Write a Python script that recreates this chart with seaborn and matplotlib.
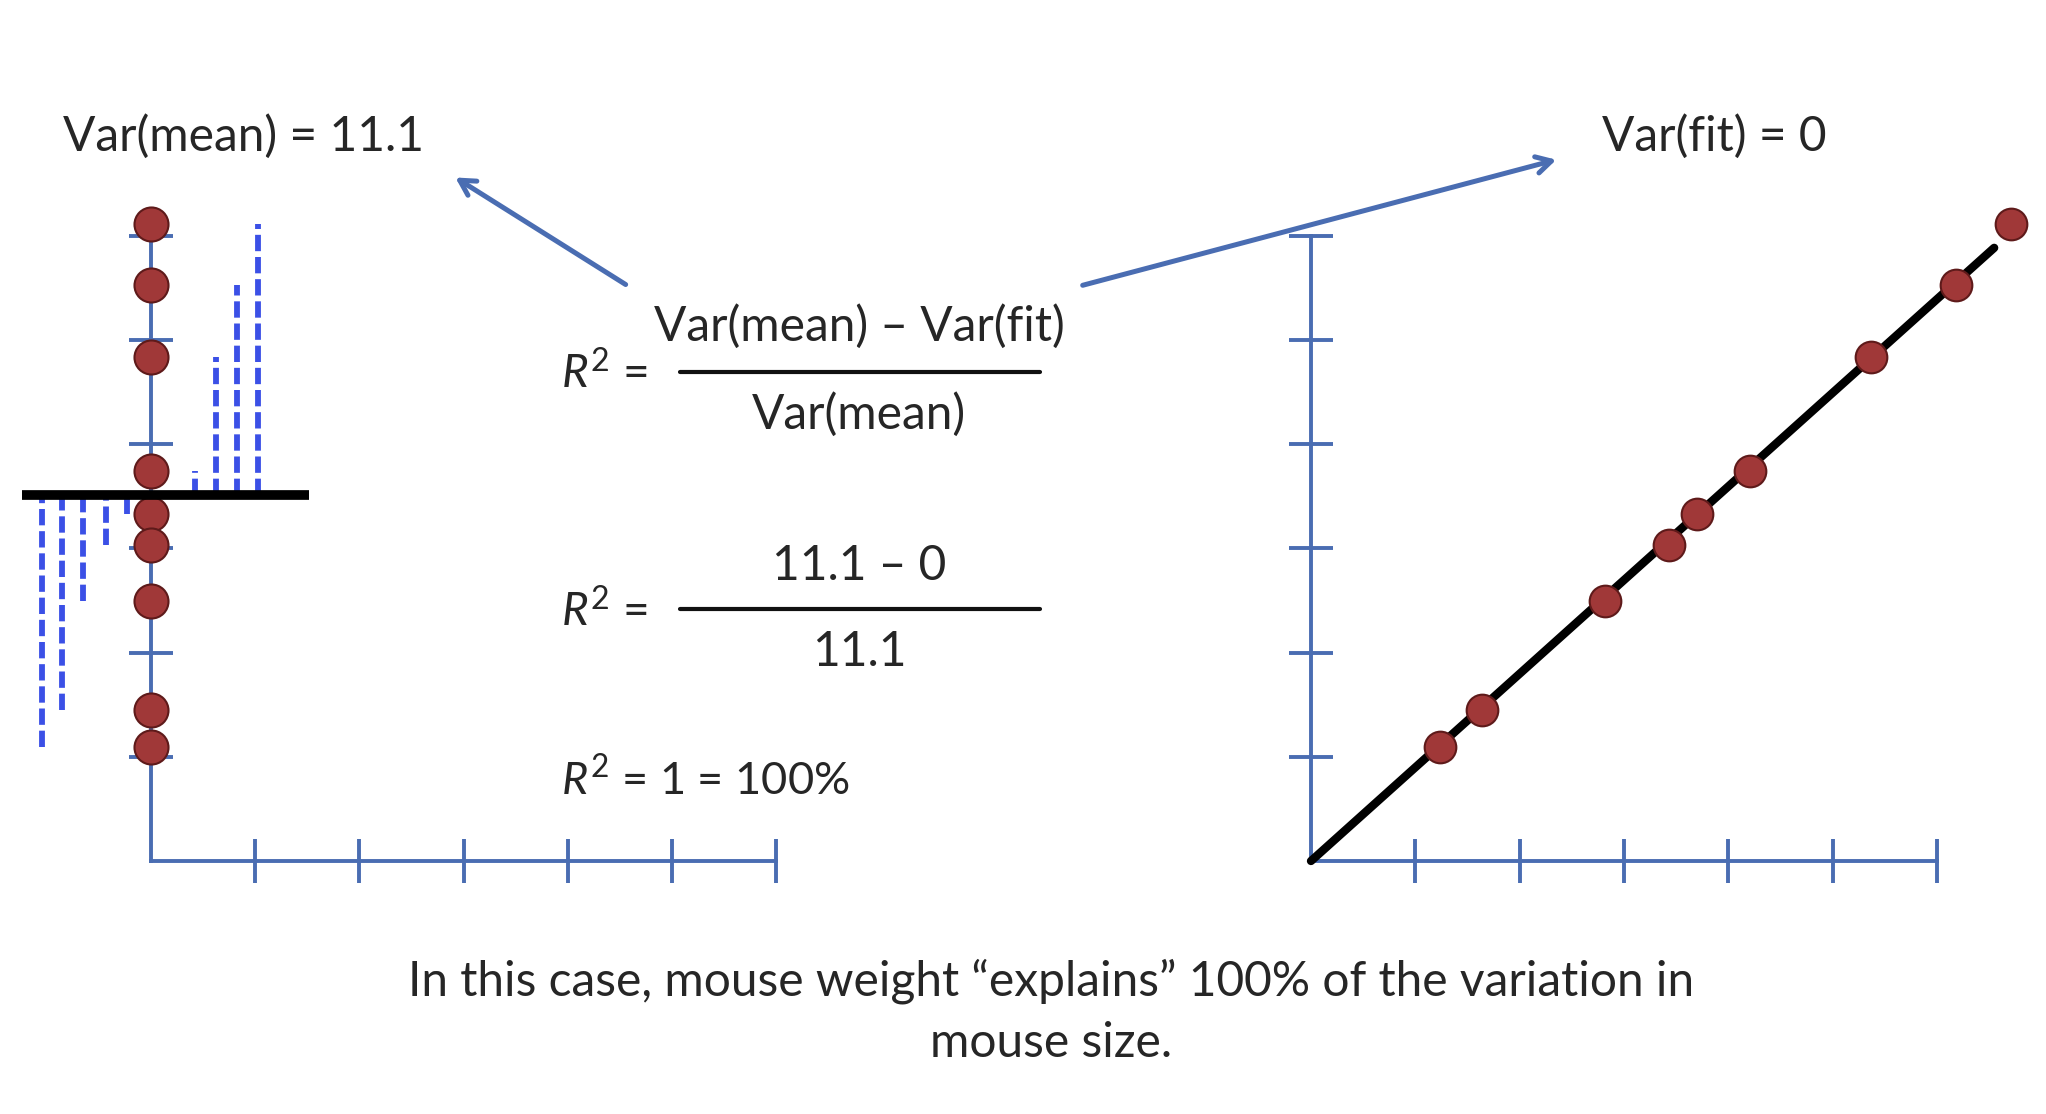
import matplotlib
matplotlib.use("Agg")
import matplotlib.pyplot as plt
import numpy as np
import pandas as pd
import seaborn as sns
from matplotlib.lines import Line2D

# mouse size values (same for both panels) and mouse weight for the fit panel
size_vals = [6.11, 5.53, 4.84, 3.74, 3.33, 3.03, 2.50, 1.45, 1.09]
weight_vals = [6.71, 6.18, 5.37, 4.21, 3.70, 3.43, 2.82, 1.64, 1.24]

# x positions of the dashed residual lines in the left panel
resid_x_below = [-1.05, -0.85, -0.65, -0.43, -0.23]
resid_x_above = [0.42, 0.62, 0.83, 1.03]

axis_ticks = [1, 2, 3, 4, 5, 6]

AXIS_BLUE = "#4a6db2"
DASH_BLUE = "#3b50e6"
DOT_RED = "#a03838"
DOT_EDGE = "#5e1a1a"
TEXT = "#262626"

sns.set_theme(style="white")
plt.rcParams["font.family"] = ["Lato", "DejaVu Sans"]
plt.rcParams["mathtext.fontset"] = "custom"
plt.rcParams["mathtext.it"] = "Lato:italic"
plt.rcParams["mathtext.rm"] = "Lato"

W, H = 2046, 1114
fig = plt.figure(figsize=(W / 100, H / 100), dpi=100)
fig.patch.set_facecolor("white")


def px(x, y):
    # pixel position (top-left origin) -> figure fraction
    return x / W, 1 - y / H


def make_axes(x0, x1, origin_x, unit_x):
    y_top, y_bot, origin_y, unit_y = 150, 900, 861, 104.2
    ax = fig.add_axes([x0 / W, 1 - y_bot / H, (x1 - x0) / W, (y_bot - y_top) / H])
    ax.set_xlim((x0 - origin_x) / unit_x, (x1 - origin_x) / unit_x)
    ax.set_ylim((origin_y - y_bot) / unit_y, (origin_y - y_top) / unit_y)
    ax.patch.set_alpha(0)
    for side in ["top", "right"]:
        ax.spines[side].set_visible(False)
    for side in ["left", "bottom"]:
        ax.spines[side].set_position(("data", 0))
        ax.spines[side].set_color(AXIS_BLUE)
        ax.spines[side].set_linewidth(2.8)
        ax.spines[side].set_bounds(0, 6)
        ax.spines[side].set_zorder(1)
    ax.set_xticks(axis_ticks)
    ax.set_yticks(axis_ticks)
    ax.tick_params(direction="inout", length=32, width=2.8, color=AXIS_BLUE,
                   labelleft=False, labelbottom=False, left=True, bottom=True)
    ax.set_xlabel("")
    ax.set_ylabel("")
    return ax


# left panel: variation around the mean
axL = make_axes(0, 800, 151, 104.2)
mean_size = np.mean(size_vals)
below = sorted([v for v in size_vals if v < mean_size])
above = sorted([v for v in size_vals if v > mean_size])
axL.vlines(resid_x_below, below, mean_size, colors=DASH_BLUE, linewidth=4.2,
           linestyles=(0, (2.8, 1)), zorder=2)
axL.vlines(resid_x_above, mean_size, above, colors=DASH_BLUE, linewidth=4.2,
           linestyles=(0, (2.8, 1)), zorder=2)
axL.hlines(mean_size, -1.24, 1.52, colors="black", linewidth=7, zorder=4)
left_df = pd.DataFrame({"x": np.zeros(len(size_vals)), "size": size_vals})
sns.scatterplot(data=left_df, x="x", y="size", ax=axL, s=600, color=DOT_RED,
                edgecolor=DOT_EDGE, linewidth=1.5, zorder=3)
axL.set_xlabel("")
axL.set_ylabel("")

# right panel: perfect fit
axR = make_axes(1250, 2046, 1311, 104.3)
wx = np.array(weight_vals)
sy = np.array(size_vals)
slope = np.sum(wx * sy) / np.sum(wx * wx)
fit_df = pd.DataFrame({"weight": [0, 6.55], "size": [0, 6.55 * slope]})
sns.lineplot(data=fit_df, x="weight", y="size", ax=axR, color="black",
             linewidth=6, zorder=2)
right_df = pd.DataFrame({"weight": weight_vals, "size": size_vals})
sns.scatterplot(data=right_df, x="weight", y="size", ax=axR, s=520, color=DOT_RED,
                edgecolor=DOT_EDGE, linewidth=1.5, zorder=3, clip_on=False)
axR.set_xlabel("")
axR.set_ylabel("")

# labels and formulas
fs = 34.5
fig.text(*px(63, 136), "Var(mean) = 11.1", fontsize=fs, color=TEXT, ha="left", va="center")
fig.text(*px(1602, 136), "Var(fit) = 0", fontsize=fs, color=TEXT, ha="left", va="center")

fs_r = 33
fig.text(*px(561, 373), r"$R^2$ =", fontsize=fs_r, color=TEXT, ha="left", va="center")
fig.text(*px(859, 327), "Var(mean) \u2013 Var(fit)", fontsize=fs, color=TEXT, ha="center", va="center")
fig.text(*px(859, 415), "Var(mean)", fontsize=fs, color=TEXT, ha="center", va="center")

fig.text(*px(561, 611), r"$R^2$ =", fontsize=fs_r, color=TEXT, ha="left", va="center")
fig.text(*px(859, 566), "11.1 \u2013 0", fontsize=fs, color=TEXT, ha="center", va="center")
fig.text(*px(859, 652), "11.1", fontsize=fs, color=TEXT, ha="center", va="center")

fig.text(*px(561, 780), r"$R^2$ = 1 = 100%", fontsize=32.5, color=TEXT, ha="left", va="center")

for yy in [372, 609]:
    (xa, ya), (xb, yb) = px(680, yy), px(1040, yy)
    fig.add_artist(Line2D([xa, xb], [ya, yb], color="#111111", linewidth=3,
                          transform=fig.transFigure))

fig.text(*px(1051, 981), "In this case, mouse weight \u201cexplains\u201d 100% of the variation in",
         fontsize=34.5, color=TEXT, ha="center", va="center")
fig.text(*px(1051, 1043), "mouse size.", fontsize=34.5, color=TEXT, ha="center", va="center")

# arrows from the formula to the two variance labels
arrow_kw = dict(arrowstyle="->,head_length=0.9,head_width=0.5", color=AXIS_BLUE, lw=3.6)
fig.add_artist(plt.Annotation("", xy=px(453, 176), xytext=px(628, 286),
                              xycoords="figure fraction", textcoords="figure fraction",
                              arrowprops=arrow_kw))
fig.add_artist(plt.Annotation("", xy=px(1559, 159), xytext=px(1080, 286),
                              xycoords="figure fraction", textcoords="figure fraction",
                              arrowprops=arrow_kw))

fig.savefig("out.png", dpi=100, facecolor="white")
